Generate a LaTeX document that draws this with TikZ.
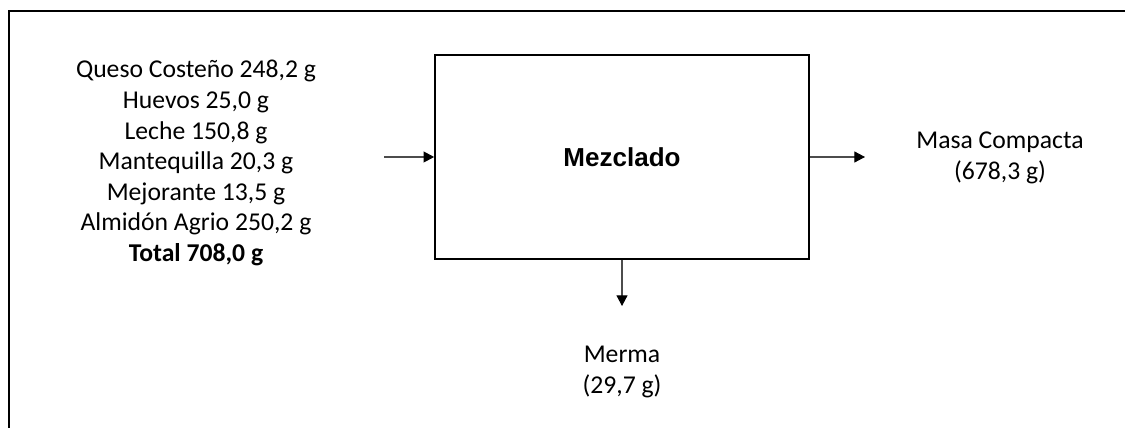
\documentclass[tikz,border=0pt]{standalone}
\usepackage{fontspec}
\setmainfont{Carlito}
\newfontfamily\arialfont{Liberation Sans}
\usetikzlibrary{arrows.meta}

\begin{document}
\begin{tikzpicture}[x=0.02cm,y=-0.02cm,
    flow/.style={-{Triangle[length=6pt,width=6.2pt,black]},line width=0.6pt,black!70},
    txt/.style={font=\fontsize{14.6}{17.4}\selectfont,align=center,inner sep=0pt}]
    \useasboundingbox (0,0) rectangle (1125,428);
    % frame (only top and left edges are inside the page)
    \draw[line width=1.2pt] (9,440) -- (9,11) -- (1140,11);
    \node[draw,line width=1pt,minimum width=7.48cm,minimum height=4.08cm,
        font=\arialfont\bfseries\fontsize{14.8}{17}\selectfont] (mix) at (622,157) {Mezclado};
    \node[txt] (feed) at (196,163) {Queso Costeño 248,2 g\\Huevos 25,0 g\\Leche 150,8 g\\
        Mantequilla 20,3 g\\Mejorante 13,5 g\\Almidón Agrio 250,2 g\\\textbf{Total 708,0 g}};
    \node[txt] (mass) at (1000,158) {Masa Compacta\\(678,3 g)};
    \node[txt] (loss) at (622,372) {Merma\\(29,7 g)};
    \coordinate (in) at (384,157);
    \coordinate (out) at (865,157);
    \coordinate (down) at (622,306);
    \draw[flow] (in) -- (mix.west);
    \draw[flow] (mix.east) -- (out);
    \draw[flow] (mix.south) -- (down);
\end{tikzpicture}
\end{document}
